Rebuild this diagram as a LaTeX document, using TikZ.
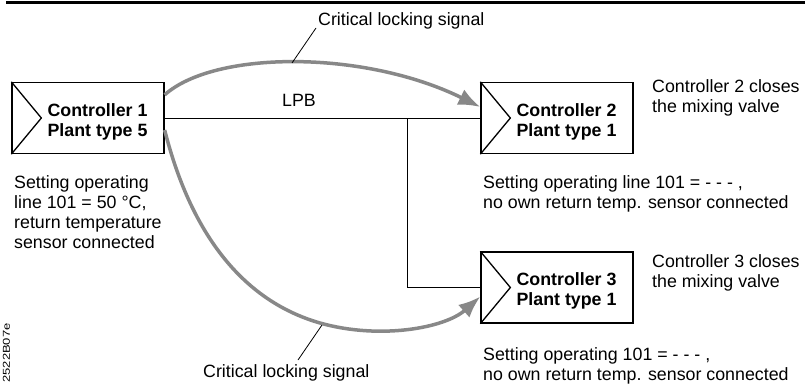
\documentclass[tikz,border=0pt]{standalone}
\usepackage{fontspec}
\setmainfont{Liberation Sans}
\usetikzlibrary{arrows.meta,calc}
\definecolor{sigcol}{RGB}{136,136,136}
\tikzset{
  ctrlbox/.style={draw=black,line width=1.3pt,minimum width=152pt,minimum height=71pt,inner sep=0pt},
  ctrltext/.style={anchor=north west,inner sep=0pt,align=left,font=\fontsize{17.8}{20}\selectfont\bfseries},
  note/.style={anchor=north west,inner sep=0pt,align=left,font=\fontsize{17.8}{20}\selectfont},
  signal/.style={draw=sigcol,line width=3.5pt,-{Latex[length=22pt,width=17pt]}},
  bus/.style={draw=black,line width=1pt},
  leader/.style={draw=black,line width=0.8pt},
  tri/.style={draw=black,line width=1.3pt}
}
\begin{document}
\begin{tikzpicture}[x=1pt,y=-1pt]
\useasboundingbox (0,0) rectangle (805,383);
\coordinate (rl) at (6,2.5);
\coordinate (rr) at (805,2.5);
\draw[line width=2.5pt] (rl) -- (rr);

% boxes
\node[ctrlbox] (c1) at (88,118) {};
\node[ctrlbox] (c2) at (557,118) {};
\node[ctrlbox] (c3) at (557,287.5) {};
\draw[tri] (c1.north west) -- ([xshift=30pt]c1.west) -- (c1.south west);
\draw[tri] (c2.north west) -- ([xshift=30pt]c2.west) -- (c2.south west);
\draw[tri] (c3.north west) -- ([xshift=30pt]c3.west) -- (c3.south west);
\node[ctrltext] (t1) at ([xshift=36pt,yshift=15pt]c1.west) {Controller 1\\Plant type 5};
\node[ctrltext] (t2) at ([xshift=36pt,yshift=15pt]c2.west) {Controller 2\\Plant type 1};
\node[ctrltext] (t3) at ([xshift=36pt,yshift=15pt]c3.west) {Controller 3\\Plant type 1};

% bus
\coordinate (jn) at (407,118);
\draw[bus] (c1.east) -- (c2.west);
\draw[bus] (jn) |- (c3.west);
\node[note] (lpb) at (282,94) {LPB};

% notes
\node[note] (n1) at (14,175) {Setting operating\\line 101 = 50 °C,\\return temperature\\sensor connected};
\node[note] (n2) at (652,79) {Controller 2 closes\\the mixing valve};
\node[note] (n3) at (652,254) {Controller 3 closes\\the mixing valve};
\node[note] (n4) at (483,175) {Setting operating line 101 = - - - ,\\no own return temp. sensor connected};
\node[note] (n5) at (483,347) {Setting operating 101 = - - - ,\\no own return temp. sensor connected};

% signals
\draw[signal] ([yshift=-13pt]c1.north east) .. controls (215,50) and (365,50) .. ([yshift=11pt]c2.west);
\draw[signal] ([yshift=-12pt]c1.east) .. controls (190,230) and (240,300) .. (320,323) .. controls (380,340) and (445,328) .. ([yshift=-9pt]c3.west);

% labels of signals
\node[note] (s1) at (318,12) {Critical locking signal};
\node[note] (s2) at (203,364) {Critical locking signal};
\coordinate (l1a) at (292,63);
\coordinate (l1b) at (316,28);
\coordinate (l2a) at (322,325);
\coordinate (l2b) at (298,360);
\draw[leader] (l1a) -- (l1b);
\draw[leader] (l2a) -- (l2b);

% drawing code
\node[inner sep=0pt,rotate=90,font=\fontsize{10}{10}\selectfont] (code) at (6.5,353) {\scalebox{1.3}[1]{2522B07e}};
\end{tikzpicture}
\end{document}
